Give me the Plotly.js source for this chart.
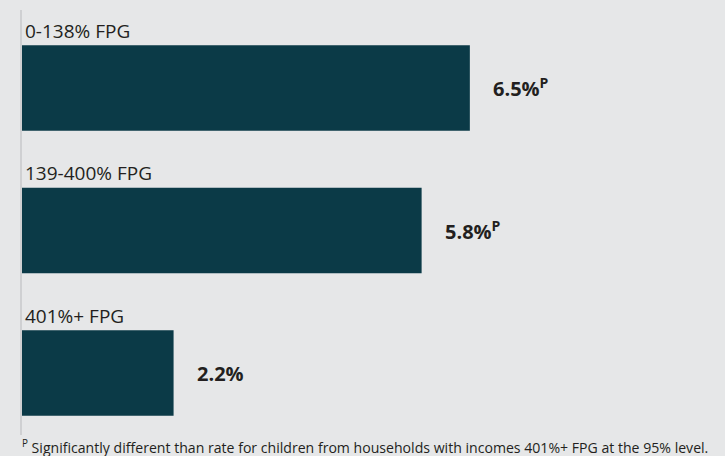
<!DOCTYPE html>
<html><head><meta charset="utf-8">
<script src="https://cdn.plot.ly/plotly-3.0.1.min.js"></script>
<style>html,body{margin:0;padding:0;background:#e6e7e8;}#chart{width:725px;height:456px;}</style>
</head><body><div id="chart"></div>
<script>
const categories = ["0-138% FPG", "139-400% FPG", "401%+ FPG"];
const values = [6.5, 5.8, 2.2];
const valueLabels = ["6.5%", "5.8%", "2.2%"];
const significant = [true, true, false];
const footnote = "<sup>P</sup> Significantly different than rate for children from households with incomes 401%+ FPG at the 95% level.";

const textColor = "#231f20";
const font = "Open Sans, sans-serif";

const annotations = [];
categories.forEach((c, i) => {
  annotations.push({x: 0, y: c, xref: "x", yref: "y", xanchor: "left", yanchor: "middle",
    xshift: 1, yshift: 57, text: c, showarrow: false, font: {family: font, size: 19, color: textColor}});
  annotations.push({x: values[i], y: c, xref: "x", yref: "y", xanchor: "left", yanchor: "middle",
    xshift: 21, yshift: 0, showarrow: false,
    text: "<b>" + valueLabels[i] + (significant[i] ? "<sup>P</sup>" : "") + "</b>",
    font: {family: font, size: 20, color: textColor}});
});
annotations.push({x: 0, y: 0, xref: "paper", yref: "paper", xanchor: "left", yanchor: "top",
  xshift: -2, yshift: 1,
  text: footnote, showarrow: false, font: {family: font, size: 14.1, color: textColor}});

Plotly.newPlot("chart", [{
  type: "bar", orientation: "h", y: categories, x: values,
  marker: {color: "#0b3a47"}, width: 0.6, hoverinfo: "skip"
}], {
  width: 725, height: 456,
  margin: {l: 22, r: 0, t: 10, b: 21},
  paper_bgcolor: "#e6e7e8", plot_bgcolor: "#e6e7e8",
  xaxis: {range: [0, 703 / 68.9], visible: false, fixedrange: true},
  yaxis: {type: "category", range: [2.435, -0.547], showticklabels: false, showgrid: false,
    zeroline: false, showline: true, linecolor: "#cfd0d2", linewidth: 2, ticks: "", fixedrange: true},
  showlegend: false,
  annotations: annotations
}, {displayModeBar: false, staticPlot: true});
</script></body></html>
